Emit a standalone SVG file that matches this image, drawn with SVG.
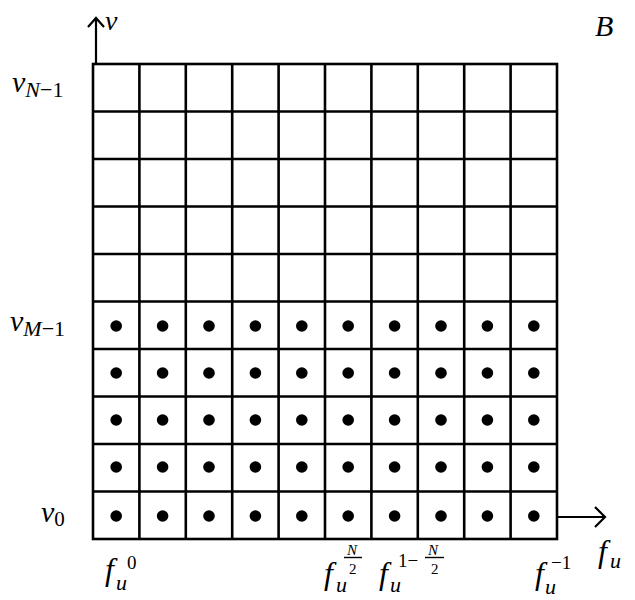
<svg xmlns="http://www.w3.org/2000/svg" width="635" height="600" viewBox="0 0 635 600">
<style>
.g{stroke:#000;stroke-width:2.6;fill:none}
.ax{stroke:#000;stroke-width:2.2;fill:none}
.t{font-family:"Liberation Serif",serif;font-style:italic;fill:#000}
.n{font-family:"Liberation Serif",serif;fill:#000}
</style>
<rect width="635" height="600" fill="#fff"/>
<g id="grid">
<rect class="g" x="93" y="64" width="464" height="475"/>
<path class="g" d="M139.4 64V539M185.8 64V539M232.2 64V539M278.6 64V539M325 64V539M371.4 64V539M417.8 64V539M464.2 64V539M510.6 64V539"/>
<path class="g" d="M93 111.5H557M93 159H557M93 206.5H557M93 254H557M93 301.5H557M93 349H557M93 396.5H557M93 444H557M93 491.5H557"/>
</g>
<g id="dots" fill="#000">
<g id="r0"><circle cx="116.2" cy="326" r="5.8"/><circle cx="162.6" cy="326" r="5.8"/><circle cx="209" cy="326" r="5.8"/><circle cx="255.4" cy="326" r="5.8"/><circle cx="301.8" cy="326" r="5.8"/><circle cx="348.2" cy="326" r="5.8"/><circle cx="394.6" cy="326" r="5.8"/><circle cx="441" cy="326" r="5.8"/><circle cx="487.4" cy="326" r="5.8"/><circle cx="533.8" cy="326" r="5.8"/></g>
<g id="r1"><circle cx="116.2" cy="373" r="5.8"/><circle cx="162.6" cy="373" r="5.8"/><circle cx="209" cy="373" r="5.8"/><circle cx="255.4" cy="373" r="5.8"/><circle cx="301.8" cy="373" r="5.8"/><circle cx="348.2" cy="373" r="5.8"/><circle cx="394.6" cy="373" r="5.8"/><circle cx="441" cy="373" r="5.8"/><circle cx="487.4" cy="373" r="5.8"/><circle cx="533.8" cy="373" r="5.8"/></g>
<g id="r2"><circle cx="116.2" cy="420" r="5.8"/><circle cx="162.6" cy="420" r="5.8"/><circle cx="209" cy="420" r="5.8"/><circle cx="255.4" cy="420" r="5.8"/><circle cx="301.8" cy="420" r="5.8"/><circle cx="348.2" cy="420" r="5.8"/><circle cx="394.6" cy="420" r="5.8"/><circle cx="441" cy="420" r="5.8"/><circle cx="487.4" cy="420" r="5.8"/><circle cx="533.8" cy="420" r="5.8"/></g>
<g id="r3"><circle cx="116.2" cy="467" r="5.8"/><circle cx="162.6" cy="467" r="5.8"/><circle cx="209" cy="467" r="5.8"/><circle cx="255.4" cy="467" r="5.8"/><circle cx="301.8" cy="467" r="5.8"/><circle cx="348.2" cy="467" r="5.8"/><circle cx="394.6" cy="467" r="5.8"/><circle cx="441" cy="467" r="5.8"/><circle cx="487.4" cy="467" r="5.8"/><circle cx="533.8" cy="467" r="5.8"/></g>
<g id="r4"><circle cx="116.2" cy="516" r="5.8"/><circle cx="162.6" cy="516" r="5.8"/><circle cx="209" cy="516" r="5.8"/><circle cx="255.4" cy="516" r="5.8"/><circle cx="301.8" cy="516" r="5.8"/><circle cx="348.2" cy="516" r="5.8"/><circle cx="394.6" cy="516" r="5.8"/><circle cx="441" cy="516" r="5.8"/><circle cx="487.4" cy="516" r="5.8"/><circle cx="533.8" cy="516" r="5.8"/></g>
</g>
<g id="axes">
<path class="ax" d="M96 64V18M88 27L96 18L104 27"/>
<path class="ax" d="M557 517H605M595 507L605 517L595 527"/>
</g>
<g id="labels">
<text class="t" x="105" y="30" font-size="28">v</text>
<text class="t" x="595" y="36" font-size="30">B</text>
<text class="t" x="12" y="92" font-size="30">v<tspan font-size="22" dy="5">N</tspan><tspan font-style="normal" font-size="22">−1</tspan></text>
<text class="t" x="10" y="331" font-size="30">v<tspan font-size="22" dy="5">M</tspan><tspan font-style="normal" font-size="22">−1</tspan></text>
<text class="t" x="41" y="522" font-size="30">v<tspan font-style="normal" font-size="21" dy="4">0</tspan></text>
<text class="t" x="105" y="580" font-size="32">f</text>
<text class="t" x="116" y="590" font-size="22">u</text>
<text class="n" x="127" y="569" font-size="19">0</text>
<text class="t" x="324" y="584" font-size="32">f</text>
<text class="t" x="336" y="592" font-size="22">u</text>
<text class="t" x="347" y="555" font-size="15">N</text>
<path d="M344 557.5H362" stroke="#000" stroke-width="1.4"/>
<text class="n" x="349" y="574" font-size="15">2</text>
<text class="t" x="379" y="584" font-size="32">f</text>
<text class="t" x="390" y="592" font-size="22">u</text>
<text class="n" x="398" y="567" font-size="19">1−</text>
<text class="t" x="428" y="555" font-size="15">N</text>
<path d="M425 557.5H444" stroke="#000" stroke-width="1.4"/>
<text class="n" x="431" y="574" font-size="15">2</text>
<text class="t" x="535" y="584" font-size="32">f</text>
<text class="t" x="545" y="594" font-size="22">u</text>
<text class="n" x="551" y="569" font-size="19">−1</text>
<text class="t" x="598" y="562" font-size="32">f</text>
<text class="t" x="610" y="568" font-size="22">u</text>
</g>
</svg>
